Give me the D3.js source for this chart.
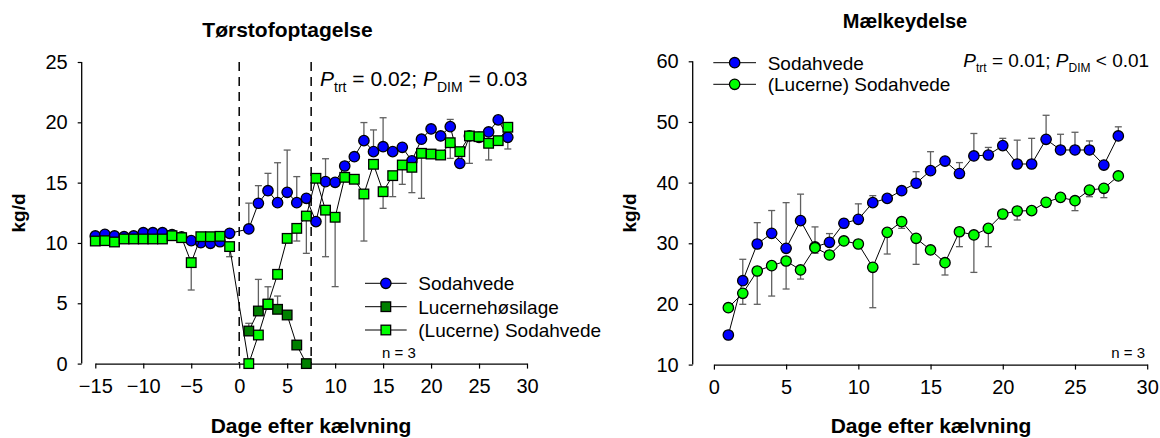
<!DOCTYPE html>
<html>
<head>
<meta charset="utf-8">
<script src="https://cdn.jsdelivr.net/npm/d3@7"></script>
<style>
  html, body { margin: 0; padding: 0; background: #fff; }
  svg { display: block; font-family: "Liberation Sans", Arial, sans-serif; }
</style>
</head>
<body>
<svg id="chart" width="1160" height="438"></svg>
<script>
// ---------- Tørstofoptagelse (dry matter intake), kg/d ----------
const dmiDays = [-15,-14,-13,-12,-11,-10,-9,-8,-7,-6,-5,-4,-3,-2,-1,
                 1,2,3,4,5,6,7,8,9,10,11,12,13,14,15,16,17,18,19,20,21,22,23,24,25,26,27,28];
const dmiSodahvede = [10.58,10.72,10.58,10.52,10.58,10.85,10.85,10.85,10.7,10.5,10.19,10.02,9.97,10.1,10.8,
                      11.16,13.29,14.33,13.34,14.2,13.34,13.7,11.77,15.08,15.03,16.38,17.15,18.48,17.57,
                      17.98,17.57,17.93,16.8,18.6,19.45,18.87,19.64,16.6,18.87,18.76,19.2,20.2,18.76];
const dmiSodahvedeSE = [null,null,null,null,null,null,null,null,null,null,null,null,null,null,null,
                        2.14,1.46,1.44,3.31,3.5,2.16,0.3,0.3,1.9,null,null,null,1.5,1.8,
                        2.4,null,null,null,null,0.3,null,0.6,null,null,null,null,0.3,null];
const dmiLucSodahvede = [10.16,10.19,10.08,10.33,10.33,10.33,10.33,10.33,10.6,10.44,8.37,10.52,10.52,10.55,9.7,
                         0,2.37,4.94,7.4,10.38,11.21,12.23,15.36,12.72,12.13,15.44,15.28,14.06,16.52,
                         14.25,15.58,16.46,16.27,17.43,17.37,17.29,18.31,17.57,18.87,18.81,18.26,18.48,19.59];
const dmiLucSodahvedeSE = [null,null,null,null,null,null,null,null,null,null,2.27,null,null,null,0.84,
                           null,null,null,null,null,1.05,3.09,null,3.86,5.75,null,null,3.9,null,
                           1.38,1.74,1.6,2.1,3.73,null,null,1.3,null,2.27,null,1.38,null,1.8];
const silageDays = [1,2,3,4,5,6,7];
const dmiSilage = [2.7,4.36,4.9,4.5,4.03,1.54,0];
const dmiSilageSE = [0.64,2.62,1.47,1.1,null,null,null];

// ---------- Mælkeydelse (milk yield), kg/d ----------
const milkDays = d3.range(1, 29);
const milkSodahvede = [14.88,23.83,29.88,31.64,29.17,33.73,29.4,30.16,33.3,33.95,36.7,37.4,38.67,39.9,
                       41.97,43.56,41.5,44.4,44.55,46.1,43.07,43.07,47.14,45.38,45.38,45.38,42.9,47.69];
const milkSodahvedeSE = [0.5,3.53,3.52,3.76,7.53,4.37,3.3,1.44,0.65,2.55,1.15,null,null,1.9,
                         3.13,null,1.8,3.7,1.25,1.2,3.93,4.23,3.96,2.59,2.92,1.49,null,1.51];
const milkLucSodahvede = [19.38,21.75,25.43,26.31,27.08,25.6,29.27,28.07,30.38,29.88,26.04,31.8,33.56,30.82,
                          28.9,26.8,31.9,31.37,32.46,34.83,35.32,35.38,36.75,37.57,37.02,38.78,39.06,41.1];
const milkLucSodahvedeSE = [null,1.81,5.49,5.01,4.62,1.5,0.92,null,null,null,6.66,3.57,1.1,4.29,
                            null,2.03,2.46,6.17,3.02,0.83,1.48,null,null,null,1.64,1.1,1.54,null];

const dmiYTicks = [0,5,10,15,20,25];
const dmiXTicks = [-15,-10,-5,0,5,10,15,20,25,30];
const milkYTicks = [10,20,30,40,50,60];
const milkXTicks = [0,5,10,15,20,25,30];
const calvingMarks = [0, 7.5];

const BLUE = "#0000ff", LIGHT = "#00ff00", DARK = "#008000", ERR = "#606060";

const svg = d3.select("#chart");

function zip(days, vals, se) {
  return days.map((d, i) => ({ d, v: vals[i], se: se ? se[i] : null }));
}

function drawAxes(g, x, y, xTicks, yTicks, yAxisX, xAxisY) {
  const ax = g.append("g").attr("transform", `translate(0,${xAxisY})`)
    .call(d3.axisBottom(x).tickValues(xTicks).tickSize(5).tickSizeOuter(0).tickPadding(10));
  const ay = g.append("g").attr("transform", `translate(${yAxisX},0)`)
    .call(d3.axisLeft(y).tickValues(yTicks).tickSize(4).tickSizeOuter(0).tickPadding(10));
  [ax, ay].forEach(a => {
    a.selectAll("path.domain").attr("stroke", "#000").attr("stroke-width", 1.3);
    a.selectAll(".tick line").attr("stroke", "#000").attr("stroke-width", 1.2);
    a.selectAll(".tick text").attr("fill", "#000").attr("font-size", 20)
      .attr("font-family", "Liberation Sans, Arial, sans-serif");
  });
  ay.select("path.domain").attr("d", `M0,${y.range()[0]}V${y.range()[1]}`);
}

// one-sided error bars with caps
function drawErrors(g, x, y, pts, errDir) {
  const eb = g.append("g").attr("stroke", ERR).attr("stroke-width", 1.3);
  pts.filter(p => p.se != null).forEach(p => {
    const x0 = x(p.d), y0 = y(p.v), y1 = y(p.v + errDir * p.se);
    eb.append("line").attr("x1", x0).attr("x2", x0).attr("y1", y0).attr("y2", y1);
    eb.append("line").attr("x1", x0 - 3.5).attr("x2", x0 + 3.5).attr("y1", y1).attr("y2", y1);
  });
}

function drawLineAndMarkers(g, x, y, pts, color, shape) {
  g.append("path").datum(pts)
    .attr("fill", "none").attr("stroke", "#000").attr("stroke-width", 1)
    .attr("d", d3.line().x(p => x(p.d)).y(p => y(p.v)));
  const m = g.append("g");
  if (shape === "circle") {
    m.selectAll("circle").data(pts).join("circle")
      .attr("cx", p => x(p.d)).attr("cy", p => y(p.v)).attr("r", 5.2)
      .attr("fill", color).attr("stroke", "#000").attr("stroke-width", 1.3);
  } else {
    const s = 9.6;
    m.selectAll("rect").data(pts).join("rect")
      .attr("x", p => x(p.d) - s / 2).attr("y", p => y(p.v) - s / 2)
      .attr("width", s).attr("height", s)
      .attr("fill", color).attr("stroke", "#000").attr("stroke-width", 1.3);
  }
}

function legend(g, items, x0, x1, tx, ys, fs) {
  items.forEach((it, i) => {
    const yy = ys[i];
    g.append("line").attr("x1", x0).attr("x2", x1).attr("y1", yy).attr("y2", yy)
      .attr("stroke", "#000").attr("stroke-width", 1);
    const cx = (x0 + x1) / 2;
    if (it.shape === "circle") {
      g.append("circle").attr("cx", cx).attr("cy", yy).attr("r", 5.2)
        .attr("fill", it.color).attr("stroke", "#000").attr("stroke-width", 1.3);
    } else {
      g.append("rect").attr("x", cx - 4.8).attr("y", yy - 4.8).attr("width", 9.6).attr("height", 9.6)
        .attr("fill", it.color).attr("stroke", "#000").attr("stroke-width", 1.3);
    }
    g.append("text").attr("x", tx).attr("y", yy + 6.8).attr("font-size", fs).text(it.label);
  });
}

function pText(g, x, y, fs, subFs, shift, parts) {
  const t = g.append("text").attr("x", x).attr("y", y).attr("font-size", fs);
  parts.forEach(p => {
    if (p.type === "P") {
      t.append("tspan").attr("font-style", "italic").text("P");
    } else if (p.type === "sub") {
      t.append("tspan").attr("font-size", subFs).attr("dy", shift).text(p.text);
    } else {
      t.append("tspan").attr("dy", -shift).text(p.text);
    }
  });
}

// ================= left panel =================
{
  const g = svg.append("g");
  const x = d3.scaleLinear().domain([-15, 30]).range([95.3, 527]);
  const y = d3.scaleLinear().domain([0, 25]).range([363.6, 62]);

  drawAxes(g, x, y, dmiXTicks, dmiYTicks, 81.7, 363.6);

  // calving period markers
  calvingMarks.forEach(d => {
    g.append("line").attr("x1", x(d)).attr("x2", x(d)).attr("y1", y(25)).attr("y2", y(0))
      .attr("stroke", "#000").attr("stroke-width", 1.5).attr("stroke-dasharray", "9,6");
  });

  const blue = zip(dmiDays, dmiSodahvede, dmiSodahvedeSE);
  const dark = zip(silageDays, dmiSilage, dmiSilageSE);
  const light = zip(dmiDays, dmiLucSodahvede, dmiLucSodahvedeSE);

  drawErrors(g, x, y, blue, 1);
  drawErrors(g, x, y, dark, 1);
  drawErrors(g, x, y, light, -1);
  drawLineAndMarkers(g, x, y, blue, BLUE, "circle");
  drawLineAndMarkers(g, x, y, dark, DARK, "square");
  drawLineAndMarkers(g, x, y, light, LIGHT, "square");

  g.append("text").attr("x", 287.5).attr("y", 37).attr("text-anchor", "middle")
    .attr("font-size", 21).attr("font-weight", "bold").text("Tørstofoptagelse");
  g.append("text").attr("x", 311).attr("y", 433).attr("text-anchor", "middle")
    .attr("font-size", 21).attr("font-weight", "bold").text("Dage efter kælvning");
  g.append("text").attr("transform", "translate(24.5,213) rotate(-90)").attr("text-anchor", "middle")
    .attr("font-size", 19).attr("font-weight", "bold").text("kg/d");

  pText(g, 320, 86, 21, 14, 6, [
    { type: "P" }, { type: "sub", text: "trt" }, { type: "t", text: " = 0.02; " },
    { type: "P" }, { type: "sub", text: "DIM" }, { type: "t", text: " = 0.03" }
  ]);

  legend(g, [
    { label: "Sodahvede", color: BLUE, shape: "circle" },
    { label: "Lucernehøsilage", color: DARK, shape: "square" },
    { label: "(Lucerne) Sodahvede", color: LIGHT, shape: "square" }
  ], 365, 406.7, 418.3, [283.3, 306.7, 330], 19);

  g.append("text").attr("x", 399).attr("y", 358).attr("text-anchor", "middle")
    .attr("font-size", 15).text("n = 3");
}

// ================= right panel =================
{
  const g = svg.append("g");
  const x = d3.scaleLinear().domain([0, 30]).range([713.9, 1147.2]);
  const y = d3.scaleLinear().domain([10, 60]).range([364.6, 61.3]);

  drawAxes(g, x, y, milkXTicks, milkYTicks, 692.7, 364.6);

  const blue = zip(milkDays, milkSodahvede, milkSodahvedeSE);
  const light = zip(milkDays, milkLucSodahvede, milkLucSodahvedeSE);

  drawErrors(g, x, y, blue, 1);
  drawErrors(g, x, y, light, -1);
  drawLineAndMarkers(g, x, y, blue, BLUE, "circle");
  drawLineAndMarkers(g, x, y, light, LIGHT, "circle");

  g.append("text").attr("x", 905).attr("y", 28).attr("text-anchor", "middle")
    .attr("font-size", 20).attr("font-weight", "bold").text("Mælkeydelse");
  g.append("text").attr("x", 931).attr("y", 433).attr("text-anchor", "middle")
    .attr("font-size", 21).attr("font-weight", "bold").text("Dage efter kælvning");
  g.append("text").attr("transform", "translate(635.5,213) rotate(-90)").attr("text-anchor", "middle")
    .attr("font-size", 19).attr("font-weight", "bold").text("kg/d");

  pText(g, 963.3, 67, 19, 12, 5, [
    { type: "P" }, { type: "sub", text: "trt" }, { type: "t", text: " = 0.01; " },
    { type: "P" }, { type: "sub", text: "DIM" }, { type: "t", text: " < 0.01" }
  ]);

  legend(g, [
    { label: "Sodahvede", color: BLUE, shape: "circle" },
    { label: "(Lucerne) Sodahvede", color: LIGHT, shape: "circle" }
  ], 713.3, 756, 767.7, [62.7, 84.3], 19);

  g.append("text").attr("x", 1145).attr("y", 358).attr("text-anchor", "end")
    .attr("font-size", 15).text("n = 3");
}
</script>
</body>
</html>
